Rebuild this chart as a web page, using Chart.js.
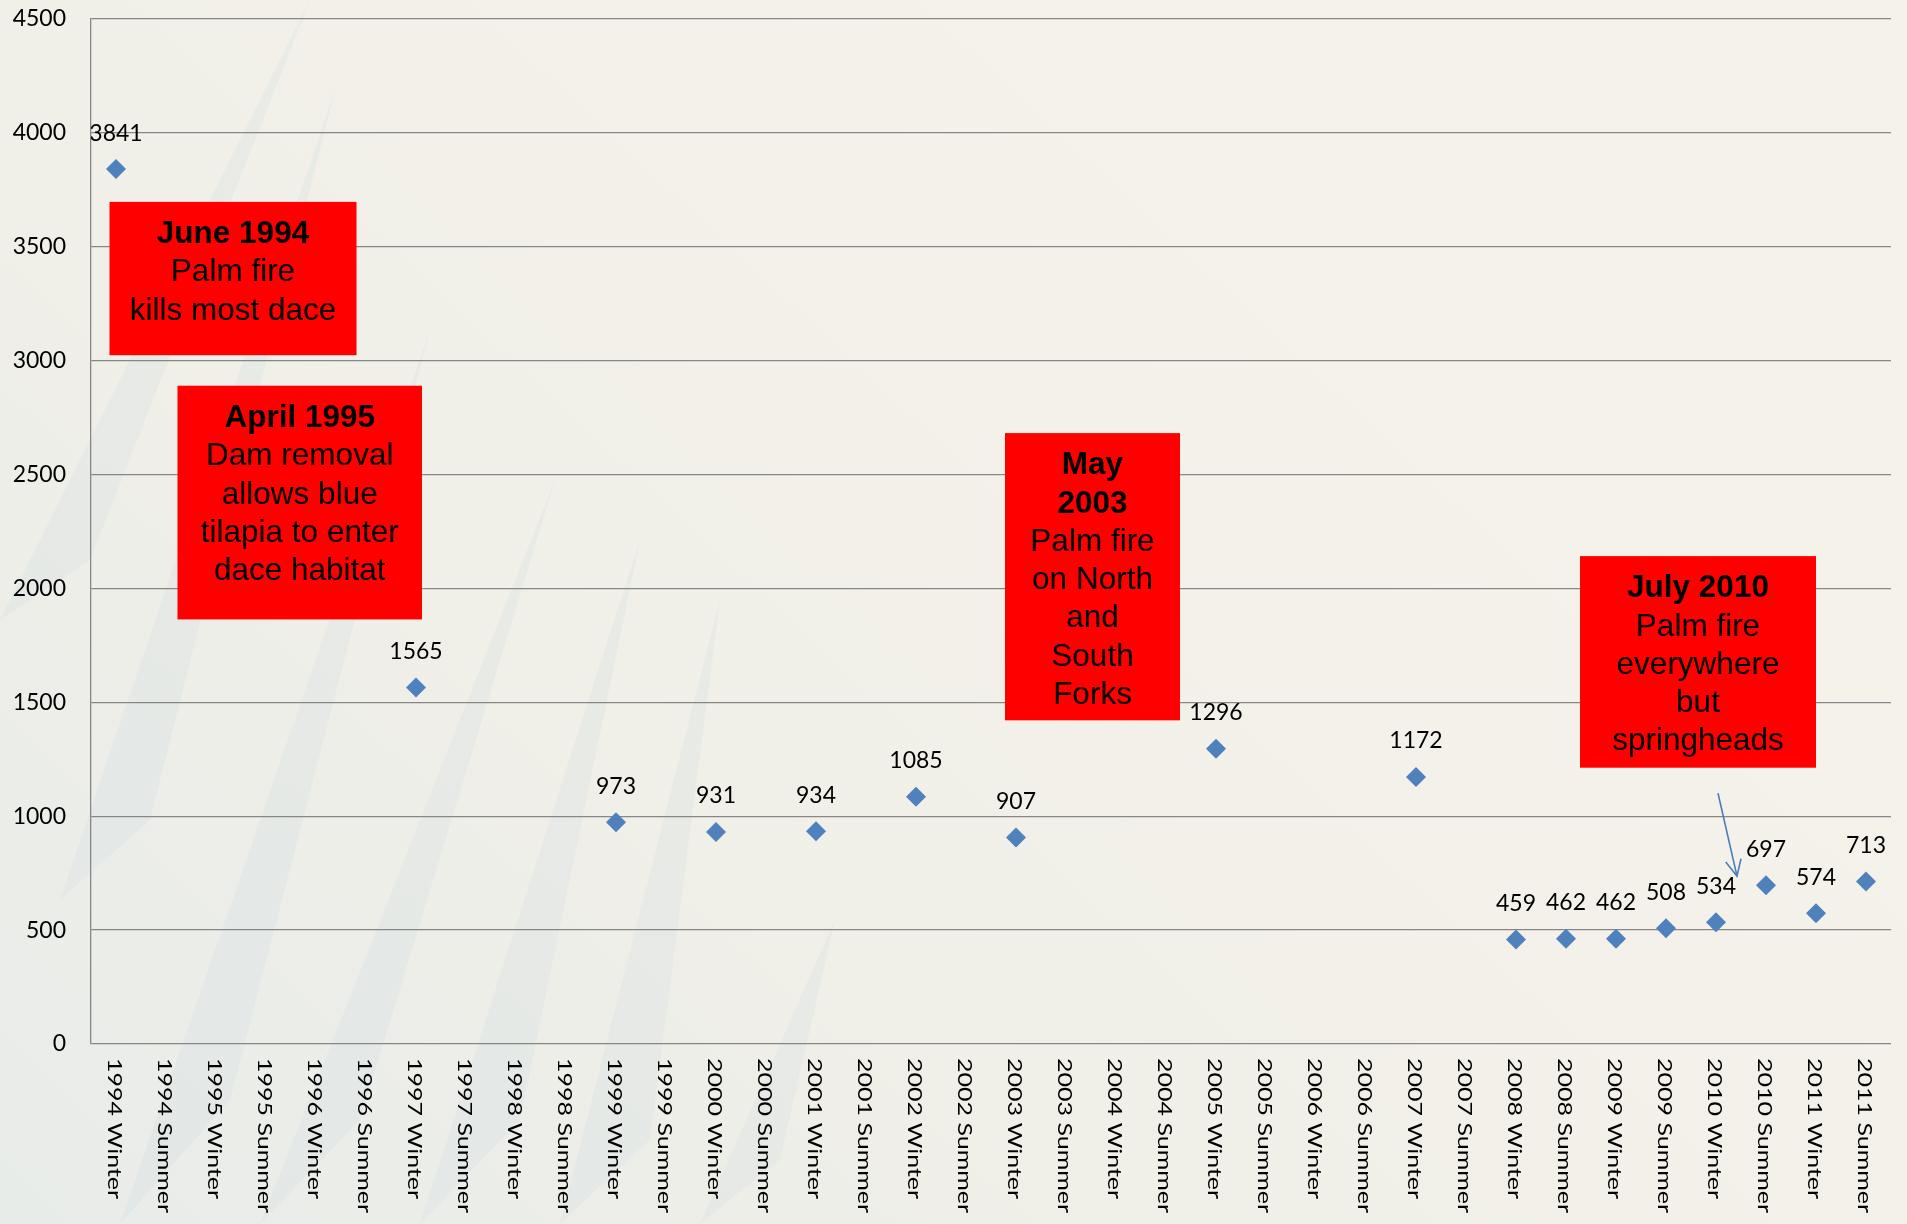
<!DOCTYPE html>
<html>
<head>
<meta charset="utf-8">
<script src="https://cdn.jsdelivr.net/npm/chart.js@4.4.1/dist/chart.umd.min.js"></script>
<style>
    html, body { margin: 0; padding: 0; background: #F4F1E9; }
    #wrap { width: 1907px; height: 1224px; position: relative; }
</style>
</head>
<body>
<div id="wrap"><canvas id="daceChart"></canvas></div>
<script>
// ==================== Data ====================
const seasons = [
    '1994 Winter', '1994 Summer', '1995 Winter', '1995 Summer', '1996 Winter', '1996 Summer',
    '1997 Winter', '1997 Summer', '1998 Winter', '1998 Summer', '1999 Winter', '1999 Summer',
    '2000 Winter', '2000 Summer', '2001 Winter', '2001 Summer', '2002 Winter', '2002 Summer',
    '2003 Winter', '2003 Summer', '2004 Winter', '2004 Summer', '2005 Winter', '2005 Summer',
    '2006 Winter', '2006 Summer', '2007 Winter', '2007 Summer', '2008 Winter', '2008 Summer',
    '2009 Winter', '2009 Summer', '2010 Winter', '2010 Summer', '2011 Winter', '2011 Summer'
];
const daceCounts = [
    3841, null, null, null, null, null,
    1565, null, null, null, 973, null,
    931, null, 934, null, 1085, null,
    907, null, null, null, 1296, null,
    null, null, 1172, null, 459, 462,
    462, 508, 534, 697, 574, 713
];
const yTicks = [0, 500, 1000, 1500, 2000, 2500, 3000, 3500, 4000, 4500];

// event boxes: x in category index units, y in count units
const events = [
    { x0: -0.13, x1: 4.81, y0: 3697, y1: 3024, lines: [['June 1994', true], ['Palm fire', false], ['kills most dace', false]] },
    { x0: 1.23, x1: 6.12, y0: 2890, y1: 1864, lines: [['April 1995', true], ['Dam removal', false], ['allows blue', false], ['tilapia to enter', false], ['dace habitat', false]] },
    { x0: 17.78, x1: 21.28, y0: 2682, y1: 1421, lines: [['May', true], ['2003', true], ['Palm fire', false], ['on North', false], ['and', false], ['South', false], ['Forks', false]] },
    { x0: 29.28, x1: 34.0, y0: 2142, y1: 1213, lines: [['July 2010', true], ['Palm fire', false], ['everywhere', false], ['but', false], ['springheads', false]] }
];
const arrowFrom = [32.04, 1101];
const arrowTo = [32.42, 737];

// ==================== Plugins ====================
const backdrop = {
    id: 'backdrop',
    beforeDraw(chart) {
        const ctx = chart.ctx;
        const w = chart.width, h = chart.height;
        ctx.save();
        const g = ctx.createLinearGradient(0, h, w * 0.6, 0);
        g.addColorStop(0, '#E8ECE9');
        g.addColorStop(0.45, '#F0EFE8');
        g.addColorStop(1, '#F5F2EA');
        ctx.fillStyle = g;
        ctx.fillRect(0, 0, w, h);
        // faint diagonal streaks
        const spikes = [
            [[0, 620], [90, 560], [310, 0]],
            [[60, 900], [150, 820], [335, 90]],
            [[120, 1224], [230, 1100], [430, 330]],
            [[260, 1224], [360, 1120], [555, 480]],
            [[420, 1224], [520, 1120], [640, 540]],
            [[560, 1224], [650, 1140], [720, 600]],
            [[700, 1224], [780, 1160], [835, 920]]
        ];
        ctx.fillStyle = 'rgba(190, 208, 222, 0.15)';
        spikes.forEach(s => {
            ctx.beginPath();
            ctx.moveTo(s[0][0], s[0][1]);
            ctx.lineTo(s[1][0], s[1][1]);
            ctx.lineTo(s[2][0], s[2][1]);
            ctx.closePath();
            ctx.fill();
        });
        ctx.restore();
    }
};

const seasonLabels = {
    id: 'seasonLabels',
    afterDraw(chart) {
        const ctx = chart.ctx;
        const xs = chart.scales.x;
        const top = chart.chartArea.bottom + 14;
        ctx.save();
        ctx.fillStyle = '#000';
        ctx.font = '20px Lato';
        ctx.textAlign = 'left';
        ctx.textBaseline = 'middle';
        seasons.forEach((s, i) => {
            ctx.save();
            ctx.translate(xs.getPixelForTick(i) - 2, top);
            ctx.rotate(Math.PI / 2);
            ctx.scale(1.25, 1);
            ctx.fillText(s, 0, 0);
            ctx.restore();
        });
        ctx.restore();
    }
};

const valueLabels = {
    id: 'valueLabels',
    afterDatasetsDraw(chart) {
        const ctx = chart.ctx;
        const area = chart.chartArea;
        const meta = chart.getDatasetMeta(0);
        ctx.save();
        ctx.beginPath();
        ctx.rect(area.left, 0, area.right - area.left, area.bottom);
        ctx.clip();
        ctx.fillStyle = '#000';
        ctx.font = '23px Lato';
        ctx.textAlign = 'center';
        ctx.textBaseline = 'middle';
        meta.data.forEach((el, i) => {
            if (daceCounts[i] === null) return;
            ctx.fillText(String(daceCounts[i]), el.x, el.y - 36);
        });
        ctx.restore();
    }
};

const eventBoxes = {
    id: 'eventBoxes',
    afterDraw(chart) {
        const ctx = chart.ctx;
        const xs = chart.scales.x, ys = chart.scales.y;
        ctx.save();
        events.forEach(ev => {
            const l = xs.getPixelForValue(ev.x0), r = xs.getPixelForValue(ev.x1);
            const t = ys.getPixelForValue(ev.y0), b = ys.getPixelForValue(ev.y1);
            ctx.fillStyle = '#FF0000';
            ctx.fillRect(l, t, r - l, b - t);
            ctx.fillStyle = '#000';
            ctx.textAlign = 'center';
            ctx.textBaseline = 'middle';
            ev.lines.forEach((ln, k) => {
                ctx.font = (ln[1] ? 'bold ' : '') + '31.5px "Liberation Sans", Arial';
                ctx.fillText(ln[0], (l + r) / 2, t + 32.5 + k * 38.3);
            });
        });
        // arrow to July 2010 points
        const x1 = xs.getPixelForValue(arrowFrom[0]), y1 = ys.getPixelForValue(arrowFrom[1]);
        const x2 = xs.getPixelForValue(arrowTo[0]), y2 = ys.getPixelForValue(arrowTo[1]);
        const ang = Math.atan2(y2 - y1, x2 - x1);
        ctx.strokeStyle = '#4A7EBB';
        ctx.lineWidth = 1.6;
        ctx.beginPath();
        ctx.moveTo(x1, y1);
        ctx.lineTo(x2, y2);
        ctx.moveTo(x2 - 18 * Math.cos(ang - 0.45), y2 - 18 * Math.sin(ang - 0.45));
        ctx.lineTo(x2, y2);
        ctx.lineTo(x2 - 18 * Math.cos(ang + 0.45), y2 - 18 * Math.sin(ang + 0.45));
        ctx.stroke();
        ctx.restore();
    }
};

// ==================== Chart ====================
const ctx = document.getElementById('daceChart').getContext('2d');
const daceChart = new Chart(ctx, {
    type: 'line',
    data: {
        labels: seasons,
        datasets: [{
            label: 'Dace count',
            data: daceCounts,
            showLine: false,
            pointStyle: 'rectRot',
            pointRadius: 10,
            pointHoverRadius: 10,
            pointBackgroundColor: '#4F81BD',
            pointBorderColor: '#4F81BD',
            pointBorderWidth: 0
        }]
    },
    options: {
        responsive: true,
        maintainAspectRatio: false,
        animation: false,
        layout: { padding: { top: 19, right: 16, bottom: 0, left: 0 } },
        plugins: {
            legend: { display: false },
            tooltip: { enabled: false }
        },
        scales: {
            x: {
                type: 'category',
                offset: true,
                grid: { display: false },
                border: { display: false },
                ticks: { display: false },
                afterFit(scale) { scale.height = 180; }
            },
            y: {
                min: 0,
                max: 4500,
                afterBuildTicks(scale) { scale.ticks = yTicks.map(v => ({ value: v })); },
                grid: { color: '#878787', lineWidth: 1.3, drawTicks: true, tickLength: 25, tickColor: 'rgba(0,0,0,0)' },
                border: { color: '#878787', width: 1.3 },
                ticks: {
                    color: '#000',
                    padding: 0,
                    font: { family: 'Lato', size: 23 },
                    callback: v => String(v)
                },
                afterFit(scale) { scale.width = 91; }
            }
        }
    },
    plugins: [backdrop, valueLabels, eventBoxes, seasonLabels]
});
</script>
</body>
</html>
